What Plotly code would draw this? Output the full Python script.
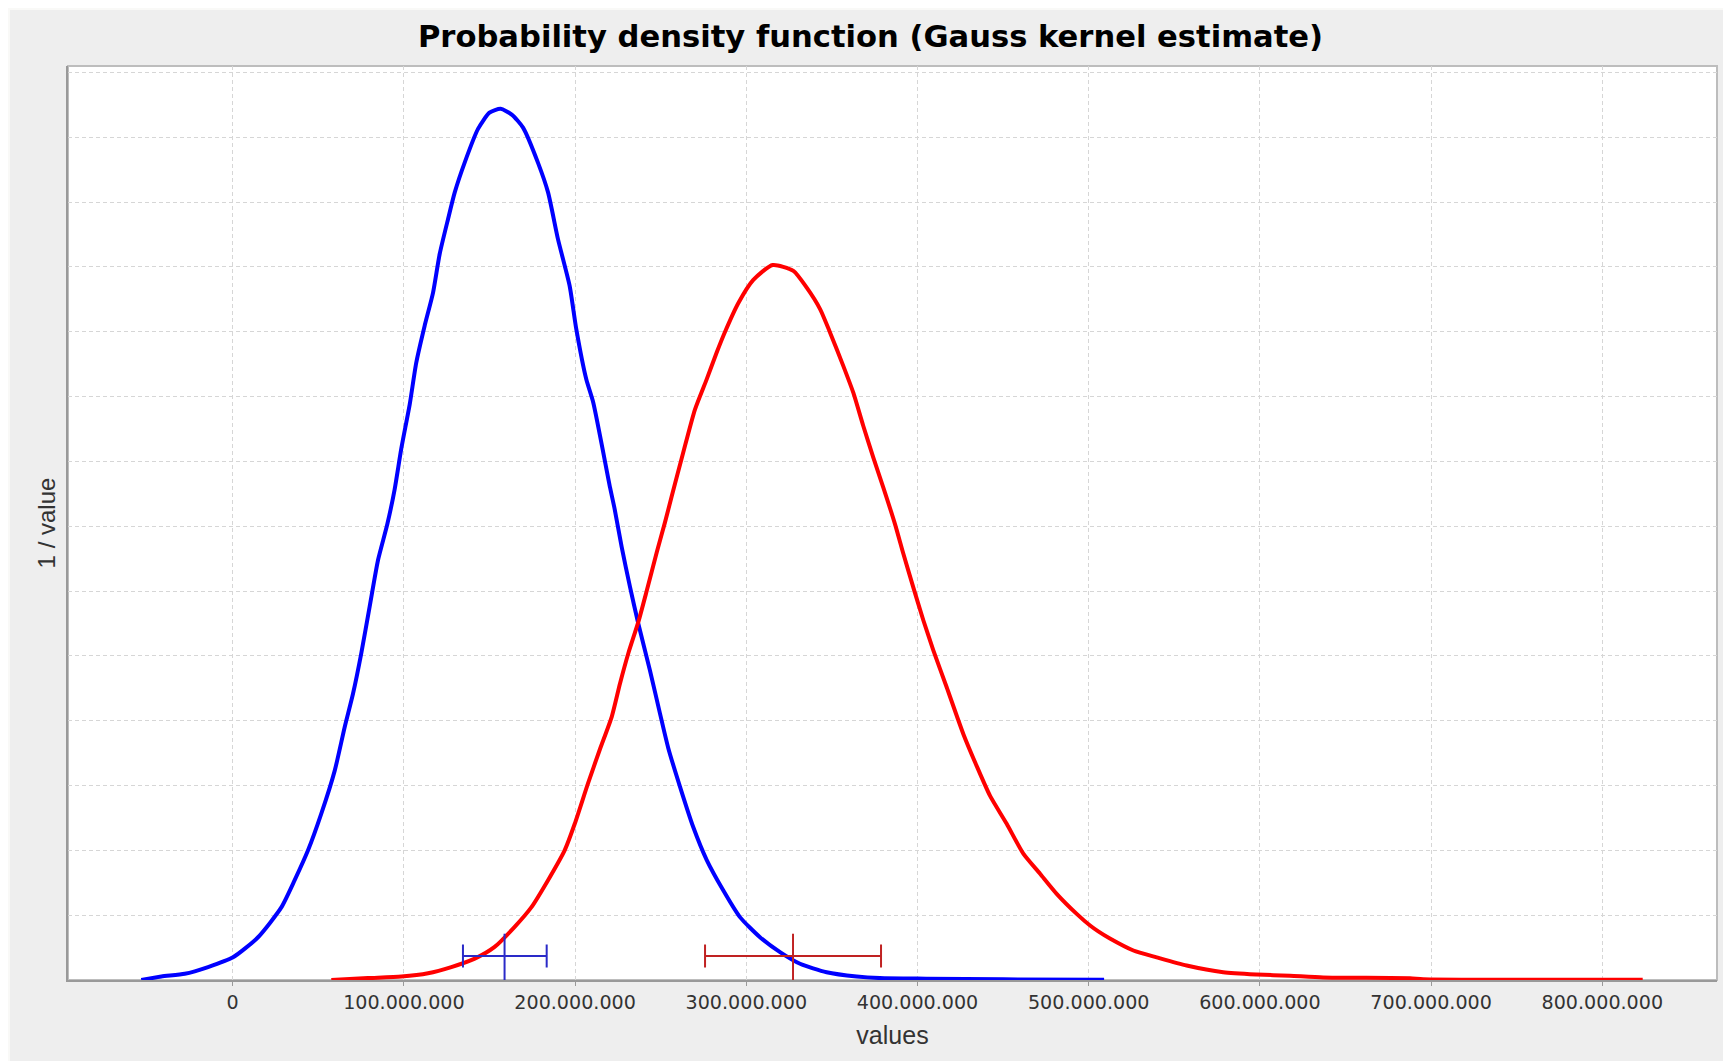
import plotly.graph_objects as go

# ---- data (x in millions, density in 1e-9 per value) ----
blue_x_m = [-53.4, -41.7, -28.0, -14.4, 0.2, 14.8, 28.4, 36.2, 44.0, 51.8, 59.6, 65.4,
            70.3, 75.1, 80.0, 84.9, 90.3, 94.6, 98.5, 103.4, 107.2, 112.1, 117.0, 120.9,
            125.8, 129.7, 135.5, 143.3, 150.0, 156.5, 163.0, 169.6, 178.3, 184.2, 190.0,
            196.8, 200.7, 206.5, 210.6, 220.4, 223.0, 227.2, 232.1, 236.9, 243.7, 249.6,
            254.4, 261.3, 269.0, 276.9, 286.6, 296.3, 308.0, 319.7, 331.4, 346.9, 364.5,
            378.0, 405.0, 450.0, 509.0]
blue_density_e9 = [0.000, 0.027, 0.048, 0.100, 0.175, 0.330, 0.560, 0.770, 1.000, 1.285,
                   1.615, 1.950, 2.210, 2.520, 2.880, 3.240, 3.515, 3.785, 4.100, 4.440,
                   4.760, 5.045, 5.300, 5.600, 5.870, 6.075, 6.305, 6.565, 6.690, 6.720,
                   6.675, 6.575, 6.305, 6.075, 5.715, 5.355, 5.020, 4.635, 4.455, 3.800,
                   3.640, 3.340, 3.030, 2.750, 2.390, 2.055, 1.790, 1.490, 1.180, 0.925,
                   0.690, 0.485, 0.330, 0.215, 0.125, 0.060, 0.027, 0.015, 0.010, 0.005,
                   0.002]

red_x_m = [57.6, 79.0, 98.5, 114.1, 127.7, 141.4, 153.0, 164.7, 174.4, 184.2, 193.9, 199.8,
           207.5, 214.5, 221.4, 226.2, 231.1, 236.9, 241.8, 247.7, 252.5, 256.4, 263.2,
           270.0, 276.9, 282.7, 287.6, 295.3, 304.1, 315.4, 327.5, 335.3, 343.1, 348.9,
           356.7, 362.5, 368.3, 374.2, 380.0, 386.9, 391.7, 397.5, 403.4, 409.2, 417.0,
           426.7, 434.6, 442.4, 452.1, 461.8, 471.6, 481.3, 493.0, 500.8, 505.6, 512.4,
           526.1, 539.7, 557.2, 578.6, 598.1, 617.6, 637.0, 687.7, 695.4, 823.6]
red_density_e9 = [0.000, 0.015, 0.027, 0.0525, 0.100, 0.165, 0.255, 0.410, 0.560, 0.770,
                  1.000, 1.205, 1.515, 1.780, 2.030, 2.285, 2.520, 2.760, 3.000, 3.300,
                  3.530, 3.730, 4.070, 4.400, 4.635, 4.840, 5.000, 5.220, 5.400, 5.515,
                  5.470, 5.340, 5.175, 4.995, 4.735, 4.530, 4.275, 4.030, 3.800, 3.515,
                  3.290, 3.030, 2.775, 2.545, 2.260, 1.900, 1.650, 1.420, 1.205, 0.975,
                  0.820, 0.665, 0.510, 0.420, 0.375, 0.320, 0.2275, 0.175, 0.112, 0.060,
                  0.0425, 0.0325, 0.0195, 0.014, 0.006, 0.0025]

# mean and interval markers (x in millions)
blue_interval = {"low": 134.5, "mean": 158.8, "high": 183.4}
red_interval = {"low": 275.9, "mean": 327.3, "high": 378.7}
interval_level_e9 = 0.185      # height of the horizontal bar
interval_mean_top_e9 = 0.357   # top of the vertical mean line

x_tick_values_m = [0, 100, 200, 300, 400, 500, 600, 700, 800]
x_tick_labels = ["0", "100.000.000", "200.000.000", "300.000.000", "400.000.000",
                 "500.000.000", "600.000.000", "700.000.000", "800.000.000"]

M = 1e6
E9 = 1e-9

fig = go.Figure()

fig.add_trace(go.Scatter(
    x=[v * M for v in blue_x_m], y=[v * E9 for v in blue_density_e9],
    mode="lines", line=dict(color="#0000FF", width=4, shape="spline", smoothing=0.6),
    showlegend=False, hoverinfo="skip"))
fig.add_trace(go.Scatter(
    x=[v * M for v in red_x_m], y=[v * E9 for v in red_density_e9],
    mode="lines", line=dict(color="#FF0000", width=4, shape="spline", smoothing=0.6),
    showlegend=False, hoverinfo="skip"))


def interval_trace(iv, color):
    return go.Scatter(
        x=[iv["mean"] * M], y=[interval_level_e9 * E9], mode="markers",
        marker=dict(size=1, color=color, opacity=0), showlegend=False, hoverinfo="skip",
        error_x=dict(type="data", symmetric=False,
                     array=[(iv["high"] - iv["mean"]) * M],
                     arrayminus=[(iv["mean"] - iv["low"]) * M],
                     color=color, thickness=2, width=11.5),
        error_y=dict(type="data", symmetric=False,
                     array=[(interval_mean_top_e9 - interval_level_e9) * E9],
                     arrayminus=[interval_level_e9 * E9],
                     color=color, thickness=2, width=0))


fig.add_trace(interval_trace(blue_interval, "#2A2AC8"))
fig.add_trace(interval_trace(red_interval, "#C02222"))

# page is 1731x1061; the html body adds an 8px margin on top/left
BODY = 8
W, H = 1731 - BODY, 1061 - BODY
ml, mr, mt, mb = 68 - BODY, 14, 66 - BODY, 81
pw, ph = W - ml - mr, H - mt - mb

grid = dict(showgrid=True, gridcolor="#d6d6d6", griddash="4px,3px", gridwidth=1)

fig.update_layout(
    width=W, height=H,
    margin=dict(l=ml, r=mr, t=mt, b=mb, pad=0),
    paper_bgcolor="#EEEEEE", plot_bgcolor="#FFFFFF",
    title=dict(text="Probability density function (Gauss kernel estimate)",
               font=dict(family="DejaVu Sans", size=30.6, color="#000000", weight=700),
               x=(870.5 - BODY) / W, xref="container", xanchor="center",
               y=1 - (36.5 - BODY) / H, yref="container", yanchor="middle"),
    xaxis=dict(range=[-96.2 * M, 867 * M], tickvals=[v * M for v in x_tick_values_m],
               ticktext=x_tick_labels, ticks="outside", ticklen=4, tickwidth=1,
               tickcolor="#999999", showline=True, linecolor="#999999", linewidth=2,
               zeroline=False, tickfont=dict(family="DejaVu Sans", size=19.1, color="#333333"),
               title=dict(text="values", standoff=14,
                          font=dict(family="Liberation Sans", size=25, color="#333333")),
               **grid),
    yaxis=dict(range=[0, 7.05 * E9], tick0=0, dtick=0.5 * E9, showticklabels=False,
               ticks="", showline=True, linecolor="#999999", linewidth=2, zeroline=False,
               title=dict(text="1 / value", standoff=4,
                          font=dict(family="Liberation Sans", size=24, color="#333333")),
               **grid),
    shapes=[
        dict(type="rect", xref="paper", yref="paper", x0=0, x1=1, y0=0, y1=1,
             line=dict(color="#BDBDBD", width=2), layer="below"),
        dict(type="rect", xref="paper", yref="paper", x0=-ml / pw, x1=-(ml - 2) / pw,
             y0=-mb / ph, y1=1 + mt / ph, fillcolor="#F9F9F7", line=dict(width=0)),
        dict(type="rect", xref="paper", yref="paper", x0=-ml / pw, x1=1 + mr / pw,
             y0=1 + (mt - 2) / ph, y1=1 + mt / ph, fillcolor="#F9F9F7", line=dict(width=0)),
    ],
)

fig.write_html("out.html")
